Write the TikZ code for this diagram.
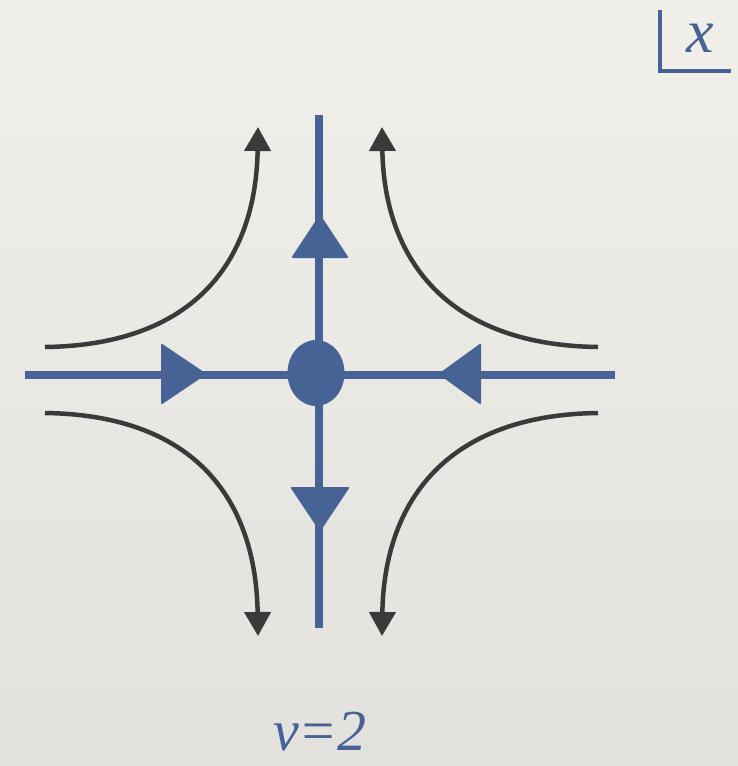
\documentclass[tikz,border=0pt]{standalone}
\usepackage{fontspec}
\setmainfont{Liberation Serif}
\newfontfamily\labelfont{Liberation Serif Italic}
\usetikzlibrary{arrows.meta,shapes.geometric}
\definecolor{flowblue}{HTML}{476395}
\definecolor{curvegray}{HTML}{3A3A3A}
\definecolor{bgtop}{HTML}{F1EFEA}
\definecolor{bgbot}{HTML}{E3E1DD}
\tikzset{
  flowline/.style={draw=flowblue, line width=8.5pt},
  flowtri/.style={fill=flowblue, draw=flowblue, line width=2pt, line join=round},
  streamline/.style={draw=curvegray, line width=4.5pt,
    -{Triangle[length=24pt,width=26pt]}},
  axisline/.style={draw=flowblue, line width=4pt},
  bluetext/.style={text=flowblue, inner sep=0pt}
}
\begin{document}
\begin{tikzpicture}[x=1pt,y=-1pt]
\useasboundingbox (0,0) rectangle (738,766);
\shade[top color=bgtop, bottom color=bgbot] (0,0) rectangle (738,766);

% axis marks
\coordinate (xtop) at (660,10);
\coordinate (xcorner) at (660,71);
\coordinate (xright) at (731,71);
\draw[axisline] (xtop) -- (xcorner) -- (xright);
\node[bluetext, font=\labelfont\fontsize{62}{62}\selectfont, anchor=base] (xlabel) at (700,52) {x};

% blue axes
\coordinate (hl) at (25,375);
\coordinate (hr) at (615,375);
\coordinate (vt) at (319,115);
\coordinate (vb) at (319,628);
\draw[flowline] (hl) -- (hr);
\draw[flowline] (vt) -- (vb);

% triangles
\coordinate (tl) at (205,374);
\coordinate (tr) at (440,374);
\coordinate (tt) at (320,216);
\coordinate (tb) at (320,530);
\filldraw[flowtri] (tl) -- ++(-43,-29) -- ++(0,58) -- cycle;
\filldraw[flowtri] (tr) -- ++(40,-29) -- ++(0,58) -- cycle;
\filldraw[flowtri] (tt) -- ++(-27,41) -- ++(54,0) -- cycle;
\filldraw[flowtri] (tb) -- ++(-28,-42) -- ++(56,0) -- cycle;

% fixed point
\node[fill=flowblue, ellipse, minimum width=57pt, minimum height=66pt, inner sep=0pt] (fp) at (316,373) {};

% streamlines
\coordinate (a1) at (45,347);
\coordinate (a2) at (258,127);
\coordinate (b1) at (598,347);
\coordinate (b2) at (382,127);
\coordinate (c1) at (45,413);
\coordinate (c2) at (258,636);
\coordinate (d1) at (598,413);
\coordinate (d2) at (382,636);
\draw[streamline] (a1) .. controls (200,345) and (256,255) .. (a2);
\draw[streamline] (b1) .. controls (443,345) and (384,255) .. (b2);
\draw[streamline] (c1) .. controls (200,415) and (256,505) .. (c2);
\draw[streamline] (d1) .. controls (443,415) and (384,505) .. (d2);

% label
\node[bluetext, font=\labelfont\fontsize{58}{58}\selectfont, anchor=base] (nu) at (320,750) {ν=2};
\end{tikzpicture}
\end{document}
